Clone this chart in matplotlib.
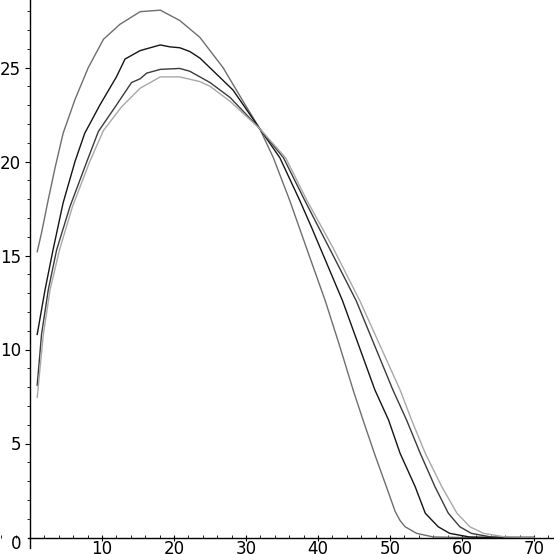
import matplotlib
matplotlib.use('Agg')
import matplotlib.pyplot as plt
from matplotlib.ticker import MultipleLocator, FixedLocator

plt.rcParams['font.family'] = ['DejaVu Sans']

# curve values
x_a = [1, 1.6, 2.55, 3.5, 4.6, 6.25, 8.1, 10.2, 12.5, 15.3, 18.1, 20.8, 23.6, 26.8, 29.6, 31.9,
       33.8, 36.1, 38.4, 41, 43, 45, 46.3, 47.9, 49.5, 50.7, 51.4, 52.1, 53.7, 56, 60, 70]
y_a = [15.2, 16.2, 18.0, 19.7, 21.5, 23.3, 25.0, 26.5, 27.3, 27.97, 28.05, 27.5, 26.6, 25.0, 23.2, 21.75,
       20.2, 17.9, 15.4, 12.6, 10.2, 7.7, 6.2, 4.4, 2.7, 1.4, 0.9, 0.57, 0.22, 0.03, 0.0, 0.0]

x_b = [1, 2.1, 3.2, 4.6, 6.25, 7.6, 9.7, 12, 13.2, 13.9, 15.3, 18.1, 19.4, 20.8, 22.2, 23.6, 25.5,
       28.2, 31.9, 34.7, 37.5, 39.1, 43.4, 47.9, 49.8, 51.4, 53.5, 54.9, 56.7, 58.3, 61, 64, 70]
y_b = [10.8, 13.2, 15.3, 17.8, 20.0, 21.5, 23.0, 24.5, 25.45, 25.6, 25.9, 26.2, 26.1, 26.05, 25.85, 25.5, 24.8,
       23.8, 21.75, 20.2, 17.9, 16.5, 12.6, 7.85, 6.25, 4.48, 2.7, 1.29, 0.57, 0.22, 0.03, 0.0, 0.0]

x_c = [1, 1.6, 2.55, 3.7, 5.55, 7.9, 9.5, 12, 14.1, 15.3, 16.2, 18.1, 20.8, 22.2, 23.6, 25, 27.8,
       31.9, 35.2, 38.2, 41.7, 45.3, 50.4, 52.3, 54.2, 56.25, 58.1, 59.7, 61.3, 64, 67, 70]
y_c = [8.1, 10.8, 13.2, 15.3, 17.6, 20.0, 21.6, 23.0, 24.2, 24.4, 24.7, 24.9, 24.95, 24.8, 24.5, 24.2, 23.4,
       21.75, 20.2, 17.9, 15.3, 12.6, 7.85, 6.25, 4.48, 2.7, 1.29, 0.57, 0.22, 0.03, 0.0, 0.0]

x_d = [1, 1.85, 2.8, 4.1, 5.9, 8.3, 10.2, 12.7, 15.3, 18.1, 20.8, 23.6, 25, 27.8, 31.9, 35.5,
       38.5, 42.1, 45.8, 51.4, 53, 54.9, 57.2, 59.3, 61.1, 63, 66, 70]
y_d = [7.45, 10.8, 13.2, 15.3, 17.6, 20.0, 21.65, 22.9, 23.9, 24.5, 24.5, 24.25, 24.0, 23.2, 21.75, 20.2,
       17.9, 15.4, 12.6, 7.85, 6.25, 4.48, 2.7, 1.29, 0.57, 0.22, 0.03, 0.0]

x_major = [10, 20, 30, 40, 50, 60, 70]
y_major = [5, 10, 15, 20, 25]

fig = plt.figure(figsize=(5.54, 5.54), dpi=100)
ax = fig.add_axes([0, 0, 1, 1])

ax.plot(x_a, y_a, color='#6e6e6e', lw=1.0)
ax.plot(x_b, y_b, color='#141414', lw=1.0)
ax.plot(x_c, y_c, color='#3a3a3a', lw=1.0)
ax.plot(x_d, y_d, color='#a8a8a8', lw=1.0)

ax.set_xlim(-30 / 7.2, 524 / 7.2)
ax.set_ylim(-16.5 / 18.8, 537.5 / 18.8)

# axes crossing at the origin, like the original
for s in ['top', 'right']:
    ax.spines[s].set_visible(False)
ax.spines['left'].set_position(('data', 0))
ax.spines['bottom'].set_position(('data', 0))
ax.spines['left'].set_bounds(-0.55, 537.5 / 18.8)
ax.spines['bottom'].set_bounds(-0.3, 524 / 7.2)
ax.spines['left'].set_linewidth(1.0)
ax.spines['bottom'].set_linewidth(1.0)

ax.xaxis.set_major_locator(FixedLocator(x_major))
ax.xaxis.set_minor_locator(MultipleLocator(2))
ax.yaxis.set_major_locator(FixedLocator(y_major))
ax.yaxis.set_minor_locator(FixedLocator([v for v in range(1, 29) if v % 5 != 0]))

ax.tick_params(axis='x', which='major', direction='inout', length=4, width=0.8, pad=0, labelsize=12)
ax.tick_params(axis='x', which='minor', direction='in', length=2.5, width=0.6)
ax.tick_params(axis='y', which='major', direction='out', length=3.6, width=0.8, pad=3, labelsize=12)
ax.tick_params(axis='y', which='minor', direction='out', length=2.5, width=0.6)

# the zero label sits a little below the x axis
ax.annotate('0', xy=(0, 0), xytext=(-6.5, -4.7), textcoords='offset points',
            ha='right', va='center', fontsize=12)

fig.savefig('out.png', dpi=100, facecolor='white')
